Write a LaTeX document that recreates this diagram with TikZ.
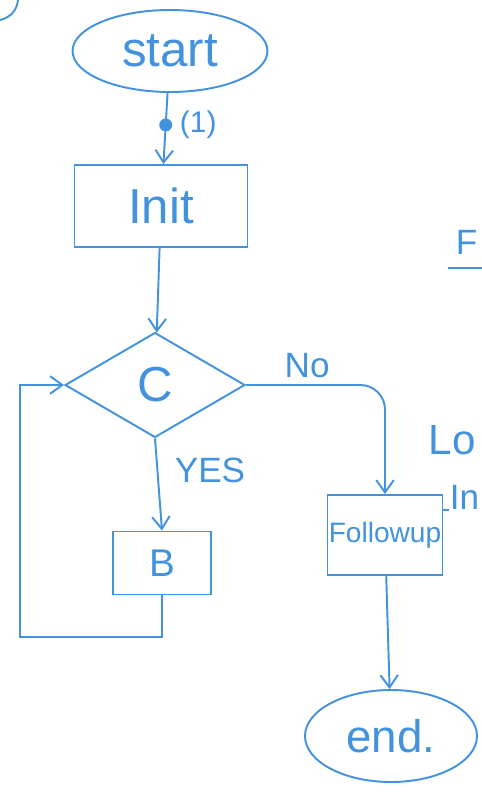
\documentclass[tikz,border=0pt]{standalone}
\usepackage{fontspec}
\setmainfont{Liberation Sans}
\usetikzlibrary{arrows.meta,shapes.geometric}
\definecolor{pen}{RGB}{66,146,222}

\begin{document}
\begin{tikzpicture}[x=0.02cm,y=-0.02cm,line width=1.1pt,draw=pen,text=pen,
  >={Straight Barb[length=7pt,width=10pt]},
  term/.style={ellipse,draw,inner sep=0pt},
  proc/.style={rectangle,draw,inner sep=0pt},
  decide/.style={diamond,draw,inner sep=0pt}]
\def\fs#1{\fontsize{#1}{#1}\selectfont}
% 画面范围
\clip (0,0) rectangle (482,792);
% 主流程节点
\node[term,minimum width=3.9cm,minimum height=1.64cm,font=\fs{28}] (start) at (170,51) {start};
\node[proc,minimum width=3.46cm,minimum height=1.64cm,font=\fs{28}] (init) at (161,206) {Init};
\node[decide,minimum width=3.6cm,minimum height=2.1cm,font=\fs{28}] (cond) at (155,385) {C};
\node[proc,minimum width=1.96cm,minimum height=1.26cm,font=\fs{22}] (body) at (162,563) {B};
\node[proc,minimum width=2.3cm,minimum height=1.6cm,font=\fs{16}] (follow) at (385,535) {Followup};
\node[term,minimum width=3.44cm,minimum height=1.84cm,font=\fs{26}] (stop) at (391,736) {end.};
% 连线
\draw[->] (start) -- node[pos=0.45,circle,fill=pen,inner sep=2.6pt,
  label={[font=\fs{17}]right:(1)}] (mark) {} (init);
\draw[->] (init) -- (cond);
\draw[->,rounded corners=14pt] (cond.east) -| node[pos=0.22,above,font=\fs{20}] {No} (follow.north);
\draw[->] (cond.south) -- node[pos=0.35,right=6pt,font=\fs{20}] {YES} (body.north);
% 回到判断
\coordinate (back) at (20,637);
\draw[->] (body.south) |- (back) |- (cond.west);
\draw[->] (follow) -- (stop);
% 右侧的字
\node[anchor=west,inner sep=0pt,font=\fs{24}] (loword) at (428,440) {Lo};
\node[anchor=west,inner sep=0pt,font=\fs{20}] (inword) at (449,497) {In};
\draw (follow.east |- inword.south west) -- (inword.south west);
\node[anchor=west,inner sep=0pt,font=\fs{20}] (fword) at (455,242) {F};
\draw (448,268) -- (482,268);
% 左上角残笔
\draw (0,20) .. controls (12,17) and (17,9) .. (18,0);
\end{tikzpicture}
\end{document}
